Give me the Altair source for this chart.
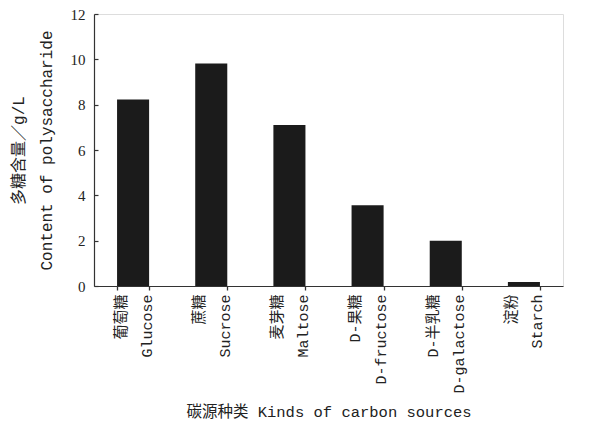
import altair as alt
import pandas as pd

cn_names = ["葡萄糖", "蔗糖", "麦芽糖", "D-果糖", "D-半乳糖", "淀粉"]
en_names = ["Glucose", "Sucrose", "Maltose", "D-fructose", "D-galactose", "Starch"]
values = [8.23, 9.82, 7.10, 3.56, 2.0, 0.18]
y_ticks = [0, 2, 4, 6, 8, 10, 12]

df = pd.DataFrame({
    "label": [c + "|" + e for c, e in zip(cn_names, en_names)],
    "value": values,
})
order = list(df["label"])

latin_cjk = "Liberation Mono, Noto Sans CJK SC"

chart = alt.Chart(df).mark_bar(color="#1b1b1b").encode(
    x=alt.X(
        "label:N",
        sort=order,
        scale=alt.Scale(paddingInner=0.59, paddingOuter=0.295),
        axis=alt.Axis(
            title="碳源种类 Kinds of carbon sources",
            labelAngle=270,
            labelExpr="split(datum.label, '|')",
            labelLineHeight=26,
            labelOffset=-13,
            labelFont=latin_cjk,
            labelFontSize=15,
            labelColor="#222",
            labelPadding=4,
            tickBand="extent",
            ticks=True,
            tickSize=4,
            tickColor="#333",
            tickWidth=1.3,
            grid=False,
            domainColor="#333",
            domainWidth=1.2,
            titleFont=latin_cjk,
            titleFontSize=15.5,
            titleFontWeight="normal",
            titleColor="#222",
            titlePadding=11,
        ),
    ),
    y=alt.Y(
        "value:Q",
        scale=alt.Scale(domain=[0, 12], nice=False),
        axis=alt.Axis(
            title=["多糖含量／g/L", "Content of polysaccharide"],
            values=y_ticks,
            ticks=False,
            grid=True,
            gridDash=[4, 2000],
            gridColor="#333",
            gridWidth=1.2,
            domainColor="#333",
            domainWidth=1.2,
            labelFont="Liberation Serif",
            labelFontSize=15,
            labelColor="#222",
            labelPadding=9,
            titleFont=latin_cjk,
            titleFontSize=16,
            titleFontWeight="normal",
            titleColor="#222",
            titleLineHeight=28,
            titlePadding=16,
        ),
    ),
).properties(
    width=469,
    height=272,
    autosize=alt.AutoSizeParams(type="none"),
    padding={"left": 86, "top": 6, "right": 28, "bottom": 137},
).configure_view(stroke=None).configure(background="white")

chart.save("out.html", embed_options={"renderer": "svg", "actions": False})
